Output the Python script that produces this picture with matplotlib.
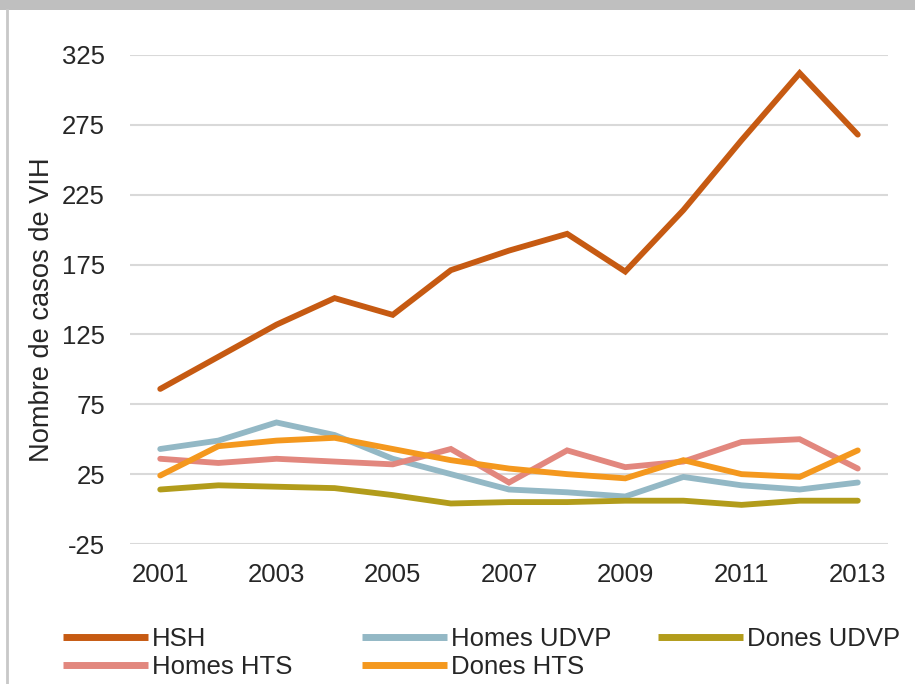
import matplotlib
matplotlib.use("Agg")
import matplotlib.pyplot as plt
from matplotlib.lines import Line2D
from matplotlib.patches import Rectangle

years = list(range(2001, 2014))
hsh = [86, 109, 132, 151, 139, 171, 185, 197, 170, 214, 264, 312, 268]
homes_udvp = [43, 49, 62, 53, 36, 25, 14, 12, 9, 23, 17, 14, 19]
dones_udvp = [14, 17, 16, 15, 10, 4, 5, 5, 6, 6, 3, 6, 6]
homes_hts = [36, 33, 36, 34, 32, 43, 19, 42, 30, 34, 48, 50, 29]
dones_hts = [24, 45, 49, 51, 43, 35, 29, 25, 22, 35, 25, 23, 42]

series_names = ["HSH", "Homes UDVP", "Dones UDVP", "Homes HTS", "Dones HTS"]
series_vals = [hsh, homes_udvp, dones_udvp, homes_hts, dones_hts]
colors = ["#C65A12", "#93B8C5", "#B29C1B", "#E2877E", "#F4981E"]

y_ticks = [-25, 25, 75, 125, 175, 225, 275, 325]
x_ticks = [2001, 2003, 2005, 2007, 2009, 2011, 2013]

plt.rcParams['font.family'] = ['Liberation Sans', 'DejaVu Sans']
plt.rcParams['axes.unicode_minus'] = False
W, H = 915, 684
fig = plt.figure(figsize=(W / 100, H / 100), dpi=100)

# frame decorations
fig.add_artist(Rectangle((0, 1 - 10 / H), 1, 10 / H, transform=fig.transFigure,
                         facecolor="#BFBFBF", edgecolor="none"))
fig.add_artist(Line2D([7 / W, 7 / W], [0, 1 - 10 / H], transform=fig.transFigure,
                      color="#C8C8C8", lw=2))

ax = fig.add_axes([130 / W, 1 - 544 / H, (888 - 130) / W, (544 - 55) / H])
for name, vals, c in zip(series_names, series_vals, colors):
    ax.plot(years, vals, color=c, lw=4.2, solid_capstyle="round",
            solid_joinstyle="miter", label=name)

ax.set_xlim(2000.48, 2013.52)
ax.set_ylim(-25, 325)
ax.set_yticks(y_ticks)
ax.set_xticks(x_ticks)
ax.yaxis.grid(True, color="#D9D9D9", lw=1.5)
ax.set_axisbelow(True)
for s in ax.spines.values():
    s.set_visible(False)
ax.tick_params(axis="both", length=0, labelsize=18.5, colors="#262626")
ax.tick_params(axis="y", pad=18)
ax.tick_params(axis="x", pad=14)

fig.text(42 / W, 1 - 310 / H, "Nombre de casos de VIH", rotation=90,
         ha="center", va="center", fontsize=19.6, color="#262626")

# legend (Excel-style fixed columns)
col_x = [63, 362, 658]
row_y = [637, 665]
slots = [(0, 0), (1, 0), (2, 0), (0, 1), (1, 1)]
for (ci, ri), name, c in zip(slots, series_names, colors):
    x0 = col_x[ci]
    y0 = 1 - row_y[ri] / H
    fig.add_artist(Line2D([x0 / W, (x0 + 85) / W], [y0, y0], transform=fig.transFigure,
                          color=c, lw=5, solid_capstyle="butt"))
    fig.text((x0 + 89) / W, y0, name, ha="left", va="center_baseline",
             fontsize=18.5, color="#262626")

fig.savefig("out.png", dpi=100)
